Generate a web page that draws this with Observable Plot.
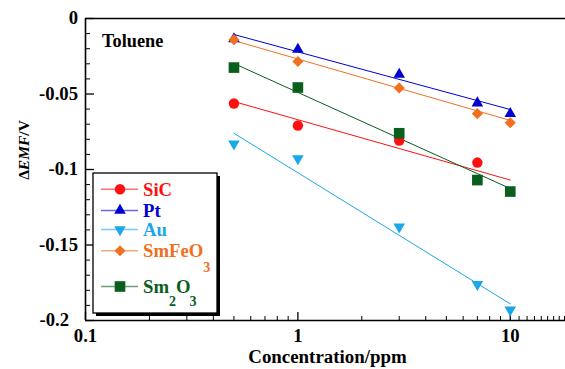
<!DOCTYPE html>
<html><head><meta charset="utf-8">
<script src="https://cdn.jsdelivr.net/npm/d3@7"></script>
<script src="https://cdn.jsdelivr.net/npm/@observablehq/plot@0.6"></script>
<style>body{margin:0;background:#fff} svg text{font-family:"Liberation Serif","Tinos","Times New Roman","DejaVu Serif",serif !important;}</style>
</head><body><div id="chart"></div>
<script>
// ---- data ----
const conc = [0.5, 1, 3, 7, 10];
const seriesNames = ["SiC", "Pt", "Au", "SmFeO3", "Sm2O3"];
const SiC    = [-0.0563, -0.0709, -0.0808, -0.0954, null];
const Pt     = [-0.0135, -0.0205, -0.0370, -0.0560, -0.0630];
const Au     = [-0.0830, -0.0927, -0.1380, -0.1760, -0.1930];
const SmFeO3 = [-0.0140, -0.0285, -0.0460, -0.0630, -0.0690];
const Sm2O3  = [-0.0325, -0.0457, -0.0760, -0.1070, -0.1146];
// fitted lines, at x = 0.5 and 10
const fitX = [0.5, 10];
const fitSiC    = [-0.0550, -0.1070];
const fitPt     = [-0.0106, -0.0603];
const fitAu     = [-0.0760, -0.1890];
const fitSmFeO3 = [-0.0146, -0.0675];
const fitSm2O3  = [-0.0298, -0.1126];
// ticks
const xTickLabels = [0.1, 1, 10];
const xMinorTicks = [0.2,0.3,0.4,0.5,0.6,0.7,0.8,0.9,2,3,4,5,6,7,8,9,11,12,13,14,15,16,17,18];
const yTickLabels = [0, -0.05, -0.1, -0.15, -0.2];
const yMinorTicks = d3.range(0, 21).map(i => -i / 100).filter(v => !yTickLabels.some(t => Math.abs(t - v) < 1e-9));
const xDomain = [0.1, 18.2];
const yDomain = [-0.2, 0];
const titleText = "Toluene";
const xTitle = "Concentration/ppm";

const colors = {SiC: "#ff1010", Pt: "#0000d2", Au: "#1aa8e8", SmFeO3: "#f07020", Sm2O3: "#0a5e1e"};
const symbols = {SiC: "circle", Pt: "triangle", Au: "triangle", SmFeO3: "diamond2", Sm2O3: "square"};
const rotates = {SiC: 0, Pt: 0, Au: 180, SmFeO3: 0, Sm2O3: 0};
const radii = {SiC: 5.2, Pt: 4.3, Au: 4.3, SmFeO3: 5.0, Sm2O3: 6.0};

const valuesBy = {SiC, Pt, Au, SmFeO3, Sm2O3};
const fitsBy = {SiC: fitSiC, Pt: fitPt, Au: fitAu, SmFeO3: fitSmFeO3, Sm2O3: fitSm2O3};

const points = [];
const fits = [];
for (const s of seriesNames) {
  valuesBy[s].forEach((v, i) => { if (v != null) points.push({s, x: conc[i], y: v}); });
  fitsBy[s].forEach((v, i) => fits.push({s, x: fitX[i], y: v}));
}

const W = 565, H = 369, mL = 85, mR = 0, mT = 18, mB = 49;
const innerW = W - mL - mR, innerH = H - mT - mB;
const font = "Liberation Serif, Tinos, Times New Roman, DejaVu Serif, serif";
const FS = 18.7;

const marks = [
  // inward ticks
  Plot.ruleX(xMinorTicks, {x: d => d, insetTop: innerH - 4, stroke: "#000", strokeWidth: 1}),
  Plot.ruleX(xTickLabels, {x: d => d, insetTop: innerH - 8, stroke: "#000", strokeWidth: 1.3}),
  Plot.ruleY(yMinorTicks, {y: d => d, insetRight: innerW - 5, stroke: "#000", strokeWidth: 1}),
  Plot.ruleY(yTickLabels, {y: d => d, insetRight: innerW - 9, stroke: "#000", strokeWidth: 1.3}),
  // frame
  Plot.ruleY([yDomain[0]], {stroke: "#000", strokeWidth: 1.6}),
  Plot.ruleY([yDomain[1]], {stroke: "#000", strokeWidth: 1.3}),
  Plot.ruleX([xDomain[0]], {stroke: "#000", strokeWidth: 1.6}),
  // axes labels
  Plot.axisX({ticks: xTickLabels, tickSize: 0, tickPadding: 8, tickFormat: d => String(d), fontSize: FS, label: null}),
  Plot.axisY({ticks: yTickLabels.slice(0, -1), tickSize: 0, tickPadding: 7.5, tickFormat: d => d === 0 ? "0" : String(d), fontSize: FS, label: null}),
  Plot.axisY({ticks: yTickLabels.slice(-1), tickSize: 0, tickPadding: 16.5, tickFormat: d => String(d), fontSize: FS, label: null}),
  // fitted lines
  ...seriesNames.map(s => Plot.line(fits.filter(d => d.s === s), {x: "x", y: "y", stroke: colors[s], strokeWidth: 1})),
  // points
  ...seriesNames.map(s => Plot.dot(points.filter(d => d.s === s), {x: "x", y: "y", symbol: symbols[s], fill: colors[s], r: radii[s], rotate: rotates[s]})),
  Plot.text([titleText], {frameAnchor: "top-left", dx: 16.5, dy: 28, lineAnchor: "bottom", text: d => d, fontSize: 18.3, fontWeight: "bold", fill: "#000", textAnchor: "start"})
];

const chart = Plot.plot({
  width: W, height: H,
  marginLeft: mL, marginRight: mR, marginTop: mT, marginBottom: mB,
  x: {type: "log", domain: xDomain},
  y: {domain: yDomain},
  style: {fontFamily: font, fontWeight: "bold", color: "#000", background: "#fff", overflow: "visible"},
  marks
});
document.getElementById("chart").appendChild(chart);

const svg = d3.select(chart);
const addText = (sel) => sel.attr("font-weight", "bold").attr("font-family", font).attr("text-anchor", "start");
// axis titles
addText(svg.append("text")).attr("x", 327.5).attr("y", 363).attr("text-anchor", "middle")
  .attr("font-size", 18.9).attr("fill", "#000").text(xTitle);
const yl = addText(svg.append("text")).attr("transform", "translate(29,150) rotate(-90)").attr("text-anchor", "middle")
  .attr("font-size", 15.5).attr("fill", "#000");
yl.append("tspan").text("Δ");
yl.append("tspan").attr("font-style", "italic").text("EMF");
yl.append("tspan").text("/V");

// legend
const lg = svg.append("g");
const bx = 93, by = 173, bw = 124, bh = 140;
lg.append("rect").attr("x", bx + 3).attr("y", by + 3).attr("width", bw).attr("height", bh).attr("fill", "#000");
lg.append("rect").attr("x", bx).attr("y", by).attr("width", bw).attr("height", bh).attr("fill", "#fff").attr("stroke", "#000").attr("stroke-width", 1.3);
const entryY = {SiC: 189.3, Pt: 210.5, Au: 229.5, SmFeO3: 250.7, Sm2O3: 286.5};
const d3sym = {circle: d3.symbolCircle, triangle: d3.symbolTriangle, diamond2: d3.symbolDiamond2, square: d3.symbolSquare};
for (const s of seriesNames) {
  const y = entryY[s];
  lg.append("line").attr("x1", 101).attr("x2", 138).attr("y1", y).attr("y2", y)
    .attr("stroke", colors[s]).attr("stroke-opacity", 0.6).attr("stroke-width", 1.5);
  lg.append("path").attr("d", d3.symbol().type(d3sym[symbols[s]]).size(radii[s] * radii[s] * Math.PI)())
    .attr("transform", `translate(120,${y}) rotate(${rotates[s]})`).attr("fill", colors[s]);
  const t = addText(lg.append("text")).attr("x", 143).attr("y", y + 6.3).attr("font-size", FS).attr("fill", colors[s]);
  if (s === "SmFeO3") {
    t.append("tspan").text("SmFeO");
    t.append("tspan").attr("dy", 15).attr("dx", 0).attr("font-size", 14).text("3");
  } else if (s === "Sm2O3") {
    t.append("tspan").text("Sm");
    t.append("tspan").attr("dy", 13).attr("dx", 0).attr("font-size", 14).text("2");
    t.append("tspan").attr("dy", -13).attr("dx", 0).text("O");
    t.append("tspan").attr("dy", 13).attr("dx", -1).attr("font-size", 14).text("3");
  } else {
    t.text(s);
  }
}
</script>
</body></html>
